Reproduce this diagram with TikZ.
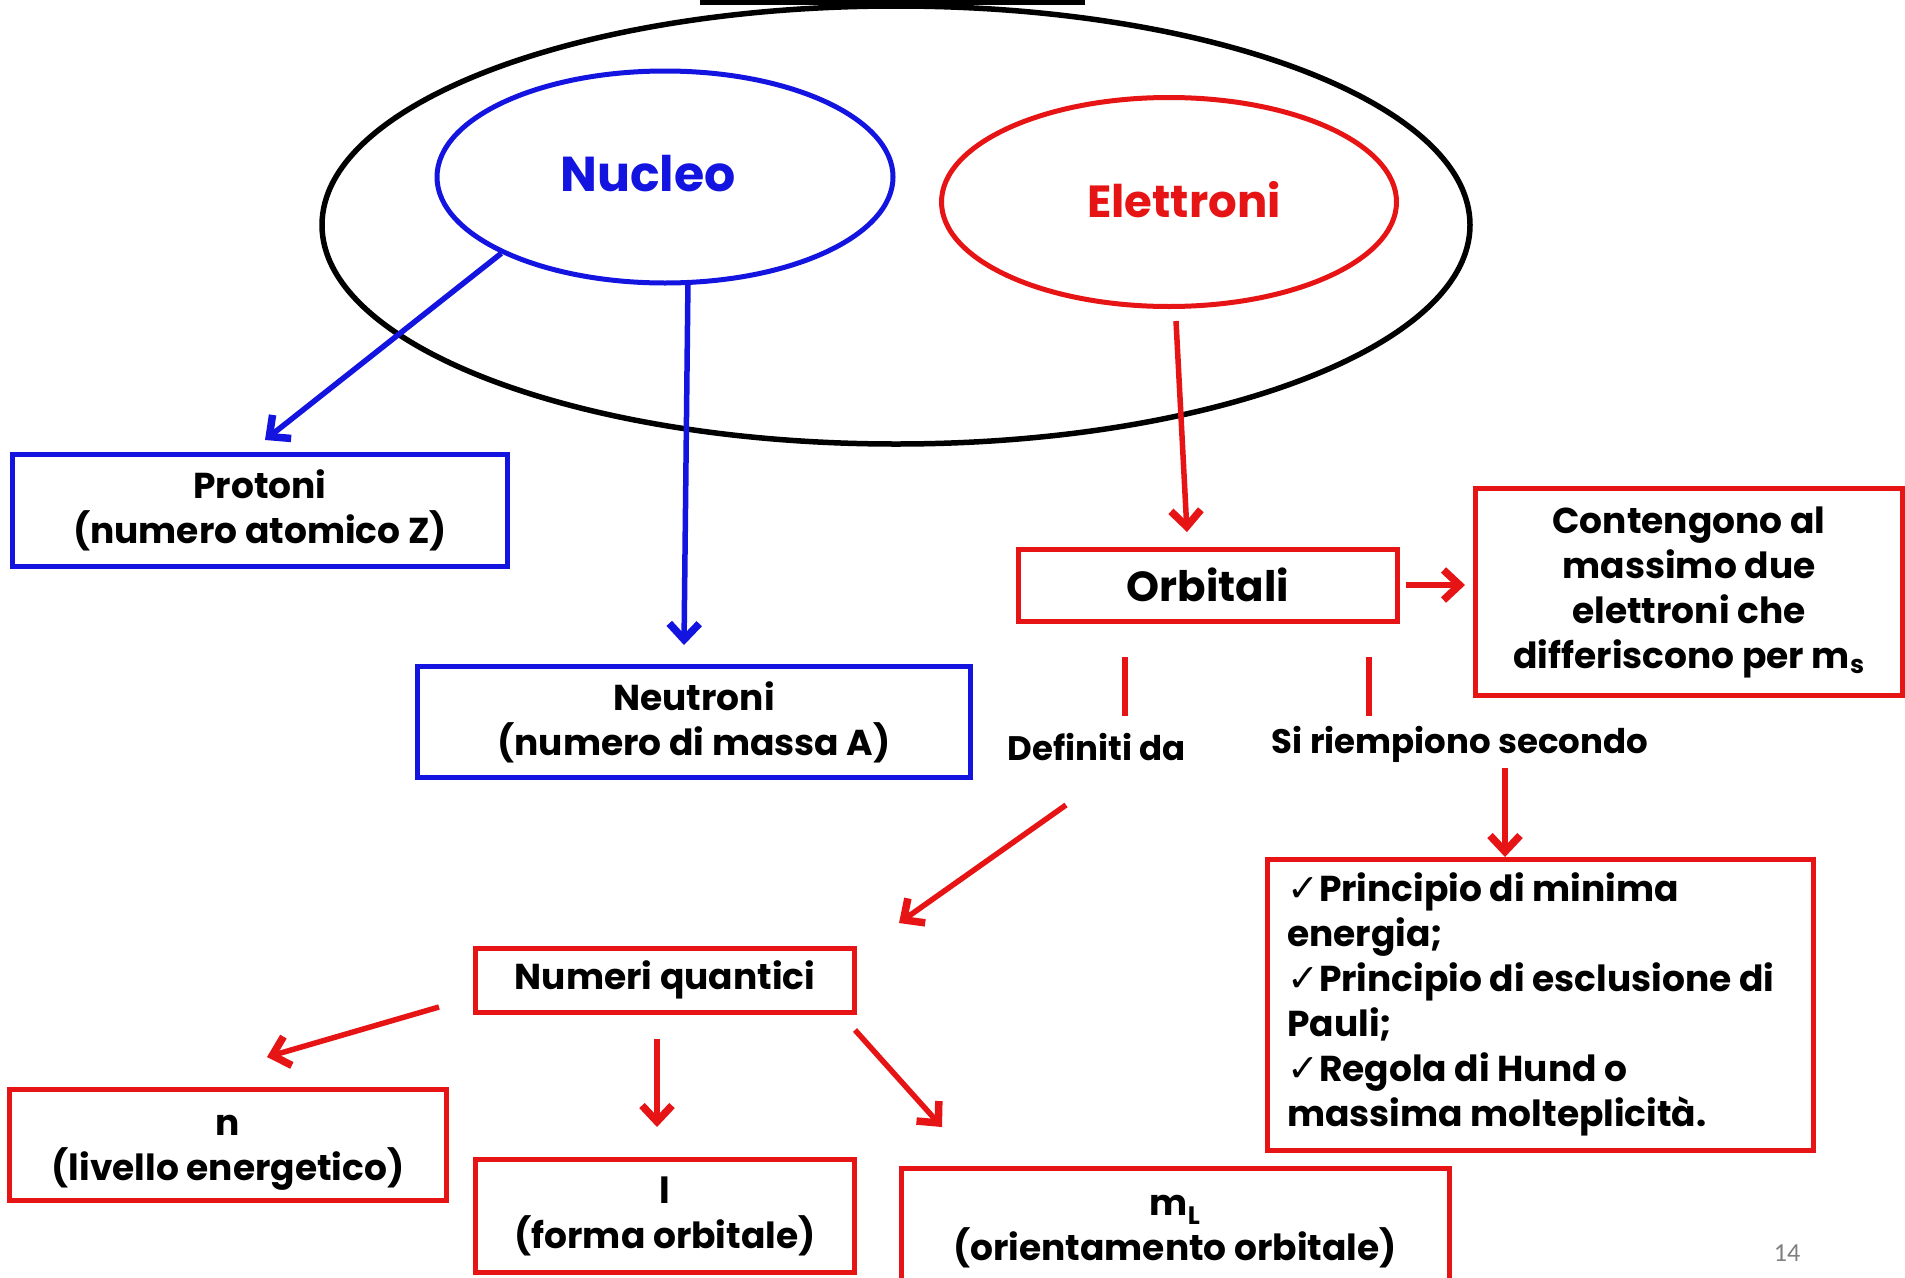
\documentclass[tikz,border=0pt]{standalone}
\usepackage{fontspec}
\setmainfont{Poppins}
\newfontfamily\dejavu{DejaVu Sans}
\newfontfamily\pagefont{Carlito}
\usetikzlibrary{shapes.geometric,arrows.meta,calc}
\definecolor{myblue}{RGB}{20,20,225}
\definecolor{myred}{RGB}{230,20,20}
\newcommand{\ck}{{\dejavu\fontsize{38}{45}\selectfont ✓}}
\begin{document}
\begin{tikzpicture}[x=1pt,y=-1pt,
  bbox/.style={draw=myblue,line width=5pt,rectangle,inner sep=0pt,align=center,font=\fontsize{36}{45}\selectfont\bfseries},
  rbox/.style={draw=myred,line width=5pt,rectangle,inner sep=0pt,align=center,font=\fontsize{36}{45}\selectfont\bfseries},
  tipx/.tip={Straight Barb[length=16pt,width=30pt,line width=2pt 1]},
  barrow/.style={draw=myblue,line width=5.5pt,-tipx},
  rarrow/.style={draw=myred,line width=5.5pt,-tipx},
  lbl/.style={font=\fontsize{34}{42}\selectfont\bfseries,inner sep=0pt}
]
\useasboundingbox (0,0) rectangle (1905,1277);
\fill[white] (0,0) rectangle (1905,1277);
% top bar
\fill[black] (700,0) rectangle (1085,5);
% atom ellipse
\node[ellipse,draw=black,line width=5.5pt,minimum width=1148pt,minimum height=438pt,inner sep=0pt] (atom) at (896,225) {};
% nucleo / elettroni
\node[ellipse,draw=myblue,line width=5pt,minimum width=456pt,minimum height=212pt,inner sep=0pt] (nuc) at (665,177) {};
\node[text=myblue,font=\fontsize{49}{60}\selectfont\bfseries] (nuct) at (648,174) {Nucleo};
\node[ellipse,draw=myred,line width=5pt,minimum width=455pt,minimum height=209pt,inner sep=0pt] (ele) at (1169,202) {};
\node[text=myred,font=\fontsize{45}{60}\selectfont\bfseries] (elet) at (1184,200) {Elettroni};
% boxes
\node[bbox,minimum width=495pt,minimum height=112pt] (pro) at (260,510) {Protoni\\(numero atomico Z)};
\node[bbox,minimum width=553pt,minimum height=111pt] (neu) at (694,722) {Neutroni\\(numero di massa A)};
\node[rbox,minimum width=379pt,minimum height=72pt,font=\fontsize{42}{50}\selectfont\bfseries] (orb) at (1208,585) {Orbitali};
\node[rbox,minimum width=427pt,minimum height=207pt] (con) at (1689,592) {Contengono al\\massimo due\\elettroni che\\differiscono per m\textsubscript{s}};
\node[rbox,minimum width=546pt,minimum height=291pt] (pri) at (1540,1005) {};
\node[anchor=north west,inner sep=0pt,align=left,font=\fontsize{36}{45}\selectfont\bfseries] (prit) at (1287,872) {\ck Principio di minima\\energia;\\\ck Principio di esclusione di\\Pauli;\\\ck Regola di Hund o\\massima molteplicità.};
\node[rbox,minimum width=379pt,minimum height=64pt] (nq) at (665,980) {Numeri quantici};
\node[rbox,minimum width=437pt,minimum height=111pt] (nn) at (228,1145) {\\[-0.5ex]n\\(livello energetico)};
\node[rbox,minimum width=379pt,minimum height=113pt] (ll) at (665,1216) {l\\(forma orbitale)};
\node[rbox,minimum width=548pt,minimum height=112pt] (ml) at (1175,1224) {\\[-0.45ex]m\textsubscript{L}\\(orientamento orbitale)};
% labels
\node[lbl] (def) at (1097,747) {Definiti da};
\node[lbl] (sir) at (1460,744) {Si riempiono secondo};
\node[text=gray,font=\pagefont\fontsize{26}{30}\selectfont] (pg) at (1787,1253) {14};
% coordinates
\coordinate (p1) at (265,440);
\coordinate (n1) at (684,645);
\coordinate (e0) at (1176,321);
\coordinate (e1) at (1187,532);
\coordinate (d0) at (1066,805);
\coordinate (d1) at (899,923);
\coordinate (s0) at (1505,768);
\coordinate (s1) at (1505,857);
\coordinate (q0) at (439,1007);
\coordinate (q1) at (267,1057);
\coordinate (l0) at (657,1039);
\coordinate (l1) at (657,1127);
\coordinate (m0) at (855,1030);
\coordinate (m1) at (942,1127);
\coordinate (t1a) at (1125,657);
\coordinate (t1b) at (1125,716);
\coordinate (t2a) at (1369,657);
\coordinate (t2b) at (1369,716);
% connectors
\draw[barrow] (nuc.205) -- (p1);
\draw[barrow] (nuc.282) -- (n1);
\draw[rarrow] (e0) -- (e1);
\draw[rarrow,shorten <=6pt,shorten >=8pt] (orb.east) -- (orb.east -| con.west);
\draw[myred,line width=5.5pt] (t1a) -- (t1b);
\draw[myred,line width=5.5pt] (t2a) -- (t2b);
\draw[rarrow] (d0) -- (d1);
\draw[rarrow] (s0) -- (s1);
\draw[rarrow] (q0) -- (q1);
\draw[rarrow] (l0) -- (l1);
\draw[rarrow] (m0) -- (m1);
\end{tikzpicture}
\end{document}
